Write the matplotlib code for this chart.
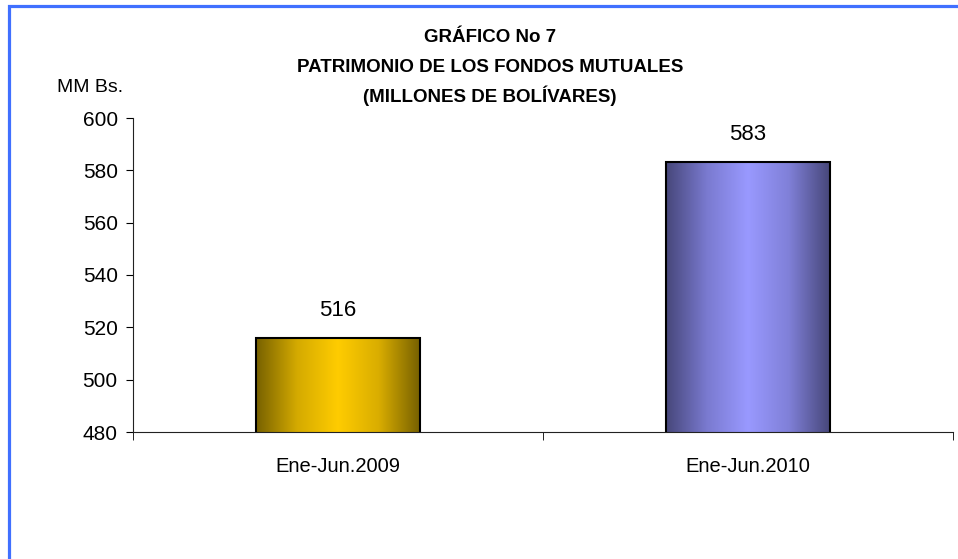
import matplotlib
matplotlib.use('Agg')
import matplotlib.pyplot as plt
import numpy as np
from matplotlib.colors import LinearSegmentedColormap
from matplotlib.patches import Rectangle

# datos
categorias = ['Ene-Jun.2009', 'Ene-Jun.2010']
valores = [516, 583]
etiquetas = ['516', '583']
yticks = [480, 500, 520, 540, 560, 580, 600]

plt.rcParams['font.family'] = ['Liberation Sans', 'DejaVu Sans']

fig = plt.figure(figsize=(9.58, 5.59), dpi=100)
ax = fig.add_axes([133 / 958, 1 - 432 / 559, 820 / 958, 314 / 559])

x = np.arange(len(categorias))
bars = ax.bar(x, valores, width=0.40, bottom=0, color='none',
              edgecolor='black', linewidth=1.5, zorder=3)

# degradados horizontales (oscuro - claro - oscuro)
gradientes = [
    LinearSegmentedColormap.from_list('oro', ['#776100', '#D4AA00', '#FFCC00', '#D9AD00', '#776100']),
    LinearSegmentedColormap.from_list('azul', ['#47477A', '#7A7AD0', '#9999FF', '#8080D8', '#47477A']),
]
grad = np.linspace(0, 1, 256).reshape(1, -1)
for b, cmap in zip(bars, gradientes):
    x0, w = b.get_x(), b.get_width()
    y1 = b.get_height()
    im = ax.imshow(grad, cmap=cmap, aspect='auto', extent=(x0, x0 + w, 480, y1),
                   zorder=2, interpolation='bicubic')
    im.set_clip_path(b)

for xi, v, t in zip(x, valores, etiquetas):
    ax.text(xi, v + 8.5, t, ha='center', va='baseline', fontsize=16)

ax.set_xlim(-0.5, 1.5)
ax.set_ylim(480, 600)
ax.set_yticks(yticks)
ax.tick_params(axis='y', labelsize=15, length=5, direction='out', pad=6)
ax.set_xticks(x)
ax.set_xticklabels(categorias)
ax.tick_params(axis='x', length=0, labelsize=14.5, pad=18)
ax.set_xticks([-0.5, 0.5, 1.5], minor=True)
ax.tick_params(axis='x', which='minor', length=6, direction='out')
ax.spines['top'].set_visible(False)
ax.spines['right'].set_visible(False)
ax.spines['left'].set_color('#222222')
ax.spines['bottom'].set_color('#222222')

fig.text(490 / 958, 1 - 37 / 559, 'GRÁFICO No 7', ha='center', va='center',
         fontsize=13.5, fontweight='bold')
fig.text(490 / 958, 1 - 67 / 559, 'PATRIMONIO DE LOS FONDOS MUTUALES', ha='center',
         va='center', fontsize=13.5, fontweight='bold')
fig.text(490 / 958, 1 - 96 / 559, '(MILLONES DE BOLÍVARES)', ha='center', va='center',
         fontsize=13.5, fontweight='bold')
fig.text(57 / 958, 1 - 87 / 559, 'MM Bs.', ha='left', va='center', fontsize=14)

# borde azul del recuadro
fig.patches.append(Rectangle((9 / 958, -0.1), 1.2, 1 - 6 / 559 + 0.1, transform=fig.transFigure,
                             fill=False, edgecolor='#4070FF', linewidth=2.3))

fig.savefig('out.png', dpi=100)
